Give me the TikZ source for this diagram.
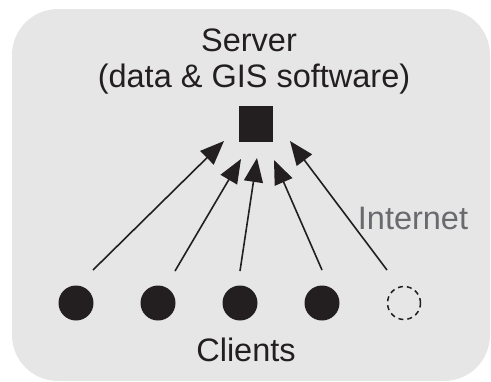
\documentclass[tikz,border=0pt]{standalone}
\usepackage{fontspec}
\setmainfont{Liberation Sans}
\usetikzlibrary{arrows.meta}
\definecolor{bg}{RGB}{230,230,231}
\definecolor{ink}{RGB}{35,31,32}
\definecolor{netgray}{RGB}{105,106,110}
\tikzset{
  lbl/.style={font=\fontsize{32.5}{38}\selectfont, text=ink, inner sep=0pt},
  client/.style={circle, fill=ink, minimum size=35pt, inner sep=0pt},
  ghost/.style={circle, draw=ink, dash pattern=on 5pt off 4pt, line width=1.5pt, minimum size=33pt, inner sep=0pt},
  link/.style={ink, line width=1.6pt, -{Triangle[length=24pt,width=19pt]}},
}
\begin{document}
\begin{tikzpicture}[x=1pt,y=-1pt]
\useasboundingbox (0,0) rectangle (491,381);
\fill[bg, rounded corners=46pt] (12,9) rectangle (490,381);
\node[lbl] (srvname) at (249,40) {Server};
\node[lbl] (srvsub) at (254,79) {(data \& GIS software)};
\node[fill=ink, minimum width=34pt, minimum height=36pt, inner sep=0pt] (server) at (256,124) {};
\node[client] (c1) at (76,303) {};
\node[client] (c2) at (158,303) {};
\node[client] (c3) at (240,303) {};
\node[client] (c4) at (322,303) {};
\node[ghost] (c5) at (404,303) {};
\node[lbl] (clients) at (246,350) {Clients};
\node[lbl, text=netgray] (internet) at (413,218) {Internet};
\coordinate (s1) at (93,270);  \coordinate (t1) at (224,141);
\coordinate (s2) at (175,271); \coordinate (t2) at (241,159);
\coordinate (s3) at (240,271); \coordinate (t3) at (257,158);
\coordinate (s4) at (322,270); \coordinate (t4) at (274,160);
\coordinate (s5) at (387,270); \coordinate (t5) at (290,141);
\draw[link] (s1) -- (t1);
\draw[link] (s2) -- (t2);
\draw[link] (s3) -- (t3);
\draw[link] (s4) -- (t4);
\draw[link] (s5) -- (t5);
\end{tikzpicture}
\end{document}
